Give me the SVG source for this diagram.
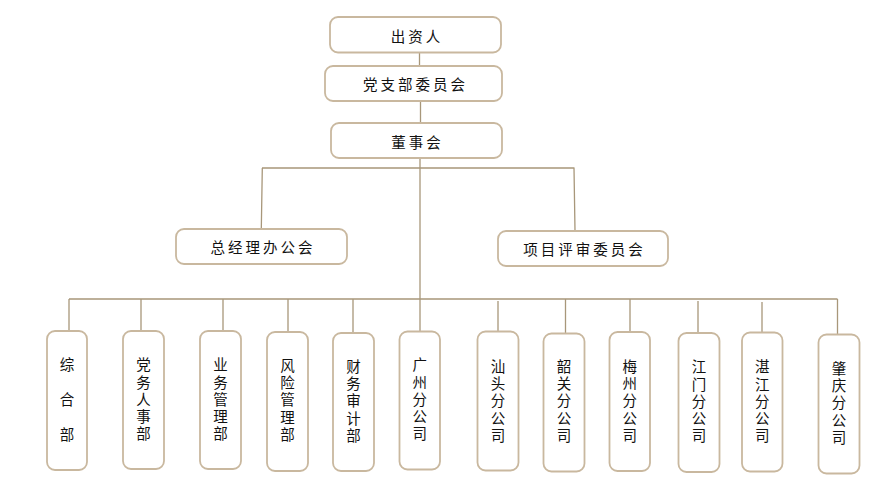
<svg xmlns="http://www.w3.org/2000/svg" width="888" height="494" viewBox="0 0 888 494">
<style>
.bx{fill:#ffffff;stroke:#c9b89f;stroke-width:1.8}
.ln{fill:none;stroke:#a8977a;stroke-width:1.3}
.t{font-family:"Noto Sans CJK SC","Noto Sans",sans-serif;font-size:14.5px;fill:#111;text-anchor:middle;letter-spacing:3px}
.v{font-family:"Noto Sans CJK SC","Noto Sans",sans-serif;font-size:14.5px;fill:#111;writing-mode:vertical-rl;text-orientation:upright;letter-spacing:2.8px}
</style>
<rect width="888" height="494" fill="#ffffff"/>
<g id="connectors">
<path class="ln" d="M419.5 52.7V66 M420.5 101V123 M420 158V331 M262 168H574.5 M262.3 168L261.3 229 M574 168L575 231 M69 299H837.5"/>
<path class="ln" d="M69 299V331 M141 299V331 M223 299V331 M288 299V332 M353 299V333 M498 301V331.5 M565.5 299V333.5 M630 299V332 M698 301V333 M762 302V332.5 M837.5 299V334.5"/>
</g>
<g id="n1"><rect class="bx" x="330" y="17" width="171" height="35.5" rx="8"/><text class="t" x="417" y="41.5">出资人</text></g>
<g id="n2"><rect class="bx" x="325" y="66" width="177" height="35" rx="8"/><text class="t" x="415.5" y="89.5">党支部委员会</text></g>
<g id="n3"><rect class="bx" x="331" y="123" width="171" height="35" rx="8"/><text class="t" x="417.5" y="147.5">董事会</text></g>
<g id="n4"><rect class="bx" x="176" y="229" width="171" height="35" rx="8"/><text class="t" x="263" y="252.5">总经理办公会</text></g>
<g id="n5"><rect class="bx" x="498" y="231" width="170" height="35" rx="8"/><text class="t" x="584.5" y="254.5">项目评审委员会</text></g>
<g id="b1"><rect class="bx" x="47" y="331" width="40" height="139" rx="8"/><text class="v" x="67" y="357.5" style="letter-spacing:20.5px">综合部</text></g>
<g id="b2"><rect class="bx" x="123" y="331" width="41" height="138" rx="8"/><text class="v" x="143.5" y="357.5">党务人事部</text></g>
<g id="b3"><rect class="bx" x="200" y="331" width="41" height="138" rx="8"/><text class="v" x="220.5" y="357.5">业务管理部</text></g>
<g id="b4"><rect class="bx" x="267" y="332" width="41" height="139" rx="8"/><text class="v" x="287.5" y="358">风险管理部</text></g>
<g id="b5"><rect class="bx" x="333" y="333" width="41" height="138" rx="8"/><text class="v" x="353.5" y="359">财务审计部</text></g>
<g id="b6"><rect class="bx" x="399.5" y="331.5" width="40.5" height="138" rx="8"/><text class="v" x="419.8" y="357.5">广州分公司</text></g>
<g id="b7"><rect class="bx" x="477.5" y="331.5" width="41" height="139" rx="8"/><text class="v" x="498" y="359">汕头分公司</text></g>
<g id="b8"><rect class="bx" x="543.5" y="333.5" width="41" height="138" rx="8"/><text class="v" x="564" y="359">韶关分公司</text></g>
<g id="b9"><rect class="bx" x="609.5" y="332" width="40.5" height="139" rx="8"/><text class="v" x="629.8" y="359">梅州分公司</text></g>
<g id="b10"><rect class="bx" x="678.5" y="333" width="41" height="139" rx="8"/><text class="v" x="699" y="359.5">江门分公司</text></g>
<g id="b11"><rect class="bx" x="742" y="332.5" width="40.5" height="139" rx="8"/><text class="v" x="762.3" y="359.5">湛江分公司</text></g>
<g id="b12"><rect class="bx" x="818.5" y="334.5" width="41" height="139" rx="8"/><text class="v" x="839" y="361">肇庆分公司</text></g>
</svg>
